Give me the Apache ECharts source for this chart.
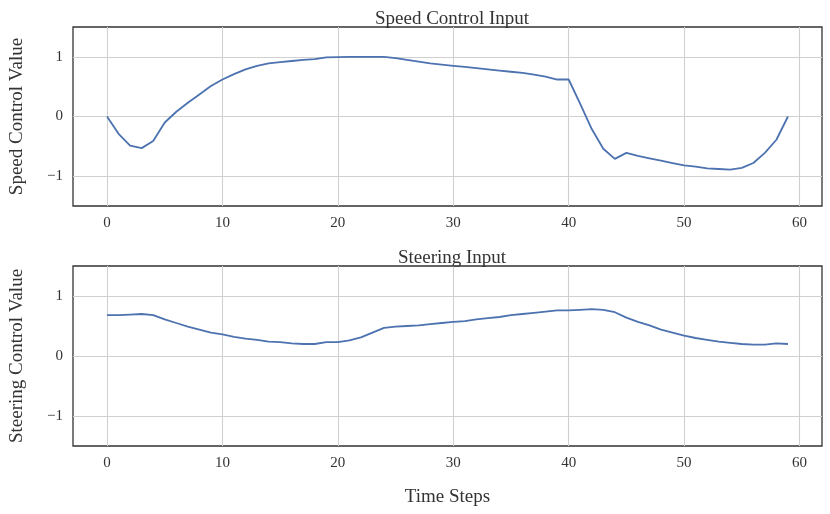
<!DOCTYPE html>
<html>
<head>
<meta charset="utf-8">
<title>Control Inputs</title>
<script src="https://cdn.jsdelivr.net/npm/echarts@6/dist/echarts.min.js"></script>
<style>
  html, body { margin: 0; padding: 0; background: #fff; }
  #chart { width: 830px; height: 514px; }
</style>
</head>
<body>
<div id="chart"></div>
<script>
var timeSteps = [];
for (var t = 0; t < 60; t++) timeSteps.push(t);

var speedInput = [
  0.00, -0.29, -0.49, -0.53, -0.41, -0.10, 0.08, 0.23, 0.37, 0.51,
  0.62, 0.71, 0.79, 0.85, 0.89, 0.91, 0.93, 0.95, 0.96, 0.99,
  0.995, 1.00, 1.00, 1.00, 1.00, 0.98, 0.95, 0.92, 0.89, 0.87,
  0.85, 0.83, 0.81, 0.79, 0.77, 0.75, 0.73, 0.70, 0.67, 0.62,
  0.62, 0.21, -0.21, -0.54, -0.71, -0.61, -0.66, -0.70, -0.74, -0.78,
  -0.82, -0.84, -0.87, -0.88, -0.89, -0.86, -0.78, -0.61, -0.39, 0.00
];

var steeringInput = [
  0.68, 0.68, 0.69, 0.70, 0.68, 0.61, 0.55, 0.49, 0.44, 0.39,
  0.36, 0.32, 0.29, 0.27, 0.24, 0.23, 0.21, 0.20, 0.20, 0.23,
  0.23, 0.26, 0.31, 0.39, 0.47, 0.49, 0.50, 0.51, 0.53, 0.55,
  0.57, 0.58, 0.61, 0.63, 0.65, 0.68, 0.70, 0.72, 0.74, 0.76,
  0.76, 0.77, 0.78, 0.77, 0.73, 0.64, 0.57, 0.51, 0.44, 0.39,
  0.34, 0.30, 0.27, 0.24, 0.22, 0.20, 0.19, 0.19, 0.21, 0.20
];

var xTicks = [0, 10, 20, 30, 40, 50, 60];
var yTicks = [-1, 0, 1];

var font = '"Liberation Serif", "DejaVu Serif", serif';
var textColor = '#333';

function pairs(ys) {
  return timeSteps.map(function (x, i) { return [x, ys[i]]; });
}

function fmt(v) {
  return v < 0 ? '\u2212' + Math.abs(v) : String(v);
}

function xAxis(idx, name) {
  return {
    type: 'value', gridIndex: idx, min: -2.95, max: 61.95,
    name: name || '', nameLocation: 'middle', nameGap: 42,
    nameTextStyle: { fontFamily: font, fontSize: 19, color: textColor },
    axisLine: { show: false },
    axisTick: { show: false, customValues: xTicks },
    axisLabel: { customValues: xTicks, fontFamily: font, fontSize: 15, color: textColor, margin: 10, formatter: fmt },
    splitLine: { show: true, lineStyle: { color: '#d0d0d0', width: 1.1 } }
  };
}

function yAxis(idx, name) {
  return {
    type: 'value', gridIndex: idx, min: -1.5, max: 1.5,
    name: name, nameLocation: 'middle', nameGap: 46, nameRotate: 90,
    nameTextStyle: { fontFamily: font, fontSize: 19, color: textColor },
    axisLine: { show: false },
    axisTick: { show: false, customValues: yTicks },
    axisLabel: { customValues: yTicks, fontFamily: font, fontSize: 15, color: textColor, margin: 10, formatter: fmt },
    splitLine: { show: true, lineStyle: { color: '#d0d0d0', width: 1.1 } }
  };
}

var chart = echarts.init(document.getElementById('chart'), null, { renderer: 'canvas' });

chart.setOption({
  animation: false,
  backgroundColor: '#fff',
  title: [
    { text: 'Speed Control Input', left: 447, top: 5, textAlign: 'center',
      textStyle: { fontFamily: font, fontSize: 19, fontWeight: 'normal', color: textColor } },
    { text: 'Steering Input', left: 447, top: 244, textAlign: 'center',
      textStyle: { fontFamily: font, fontSize: 19, fontWeight: 'normal', color: textColor } }
  ],
  grid: [
    { left: 73, top: 27, width: 749, height: 179, show: true, borderColor: '#333', borderWidth: 1.3, backgroundColor: 'transparent' },
    { left: 73, top: 266, width: 749, height: 180, show: true, borderColor: '#333', borderWidth: 1.3, backgroundColor: 'transparent' }
  ],
  xAxis: [xAxis(0), xAxis(1, 'Time Steps')],
  yAxis: [yAxis(0, 'Speed Control Value'), yAxis(1, 'Steering Control Value')],
  series: [
    { type: 'line', xAxisIndex: 0, yAxisIndex: 0, data: pairs(speedInput),
      showSymbol: false, lineStyle: { color: '#4c72b0', width: 1.8 } },
    { type: 'line', xAxisIndex: 1, yAxisIndex: 1, data: pairs(steeringInput),
      showSymbol: false, lineStyle: { color: '#4c72b0', width: 1.8 } }
  ]
});
</script>
</body>
</html>
